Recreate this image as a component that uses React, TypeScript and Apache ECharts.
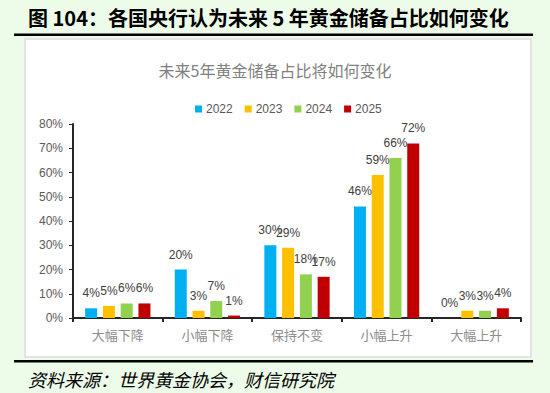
import React, { useEffect, useRef } from "react";
import * as echarts from "echarts";

const categories = ["大幅下降", "小幅下降", "保持不变", "小幅上升", "大幅上升"];
const seriesNames = ["2022", "2023", "2024", "2025"];
const values2022 = [4, 20, 30, 46, 0];
const values2023 = [5, 3, 29, 59, 3];
const values2024 = [6, 7, 18, 66, 3];
const values2025 = [6, 1, 17, 72, 4];
const colors = ["#00B0F0", "#FFC000", "#92D050", "#C00000"];
const yTicks = { min: 0, max: 80, interval: 10 };

export default function App() {
  const ref = useRef<HTMLDivElement>(null);
  useEffect(() => {
    if (!ref.current) return;
    const chart = echarts.init(ref.current, null, { renderer: "svg" });
    const all = [values2022, values2023, values2024, values2025];
    chart.setOption({
      animation: false,
      backgroundColor: "#ECFCE8",
      graphic: [
        {
          type: "text",
          left: 28,
          top: 7,
          style: {
            text: "图 104：各国央行认为未来 5 年黄金储备占比如何变化",
            font: "bold 20px 'Noto Sans CJK SC', serif",
            fill: "#000",
          },
        },
        { type: "rect", shape: { x: 14, y: 33.5, width: 519, height: 2.5 }, style: { fill: "#000" } },
        {
          type: "rect",
          z: -10,
          shape: { x: 25, y: 39, width: 506, height: 318 },
          style: { fill: "#fff", stroke: "#DCDCDC", lineWidth: 1.5 },
        },
        { type: "rect", shape: { x: 14, y: 360, width: 519, height: 2.5 }, style: { fill: "#000" } },
        {
          type: "text",
          left: 28,
          top: 370,
          style: {
            text: "资料来源：世界黄金协会，财信研究院",
            font: "italic 18px 'Noto Sans CJK SC', serif",
            fill: "#000",
          },
        },
      ],
      title: {
        text: "未来5年黄金储备占比将如何变化",
        left: "center",
        top: 57,
        textStyle: { fontSize: 16, fontWeight: "normal", color: "#808080", fontFamily: "'Noto Sans CJK SC', sans-serif" },
      },
      legend: {
        data: seriesNames,
        left: 190,
        top: 98,
        itemWidth: 7,
        itemHeight: 7,
        itemGap: 12,
        icon: "rect",
        textStyle: { fontSize: 12, color: "#595959", padding: [0, 0, 0, -1] },
      },
      grid: { left: 73, right: 29, top: 124, bottom: 75 },
      xAxis: {
        type: "category",
        data: categories,
        axisLine: { lineStyle: { color: "#262626", width: 2 } },
        axisTick: { show: true, length: 4, lineStyle: { color: "#262626", width: 2 } },
        axisLabel: { color: "#8C8C8C", fontSize: 13, margin: 10, fontFamily: "'Noto Sans CJK SC', serif" },
      },
      yAxis: {
        type: "value",
        min: yTicks.min,
        max: yTicks.max,
        interval: yTicks.interval,
        axisLine: { show: true, lineStyle: { color: "#262626", width: 2 } },
        axisTick: { show: true, length: 4, lineStyle: { color: "#262626" } },
        splitLine: { show: false },
        axisLabel: { color: "#595959", fontSize: 12, formatter: "{value}%", margin: 10 },
      },
      series: seriesNames.map((name, i) => ({
        name,
        type: "bar",
        data: all[i],
        barWidth: 12,
        barGap: "48%",
        itemStyle: { color: colors[i] },
        label: {
          show: true,
          position: "top",
          distance: 9,
          formatter: "{c}%",
          color: "#404040",
          fontSize: 12,
        },
      })),
    });
    return () => chart.dispose();
  }, []);
  return <div ref={ref} style={{ position: "absolute", left: 0, top: 0, width: 550, height: 393 }} />;
}
